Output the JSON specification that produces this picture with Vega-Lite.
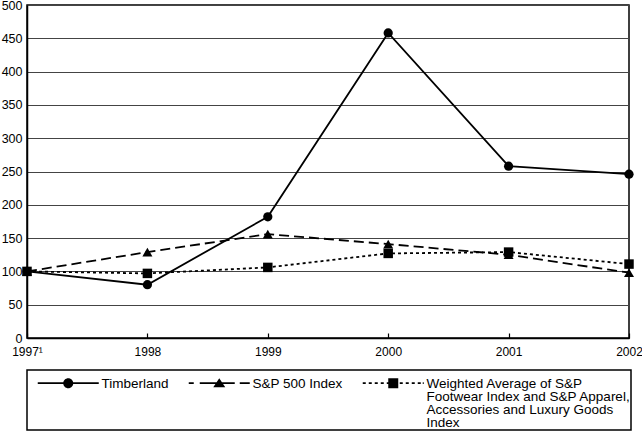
{
  "$schema": "https://vega.github.io/schema/vega-lite/v6.json",
  "autosize": {"type": "none"},
  "width": 602,
  "height": 333,
  "padding": {"left": 27, "top": 5, "right": 13, "bottom": 97},
  "background": "white",
  "config": {
    "view": {"stroke": "black", "strokeWidth": 1.5},
    "font": "Liberation Sans",
    "legend": {"strokeWidth": 1.5},
    "style": {"guide-label": {"lineHeight": 13}}
  },
  "data": {
    "values": [
      {"year": "1997", "series": "Timberland", "value": 100},
      {"year": "1998", "series": "Timberland", "value": 80},
      {"year": "1999", "series": "Timberland", "value": 182},
      {"year": "2000", "series": "Timberland", "value": 458},
      {"year": "2001", "series": "Timberland", "value": 258},
      {"year": "2002", "series": "Timberland", "value": 246},
      {"year": "1997", "series": "S&P 500 Index", "value": 100},
      {"year": "1998", "series": "S&P 500 Index", "value": 129},
      {"year": "1999", "series": "S&P 500 Index", "value": 156},
      {"year": "2000", "series": "S&P 500 Index", "value": 141},
      {"year": "2001", "series": "S&P 500 Index", "value": 125},
      {"year": "2002", "series": "S&P 500 Index", "value": 98},
      {"year": "1997", "series": "Weighted Average of S&P Footwear Index and S&P Apparel, Accessories and Luxury Goods Index", "value": 100},
      {"year": "1998", "series": "Weighted Average of S&P Footwear Index and S&P Apparel, Accessories and Luxury Goods Index", "value": 97},
      {"year": "1999", "series": "Weighted Average of S&P Footwear Index and S&P Apparel, Accessories and Luxury Goods Index", "value": 106},
      {"year": "2000", "series": "Weighted Average of S&P Footwear Index and S&P Apparel, Accessories and Luxury Goods Index", "value": 127},
      {"year": "2001", "series": "Weighted Average of S&P Footwear Index and S&P Apparel, Accessories and Luxury Goods Index", "value": 129},
      {"year": "2002", "series": "Weighted Average of S&P Footwear Index and S&P Apparel, Accessories and Luxury Goods Index", "value": 111}
    ]
  },
  "encoding": {
    "x": {
      "field": "year",
      "type": "ordinal",
      "scale": {"type": "point", "padding": 0},
      "axis": {
        "title": null,
        "labelAngle": 0,
        "labelExpr": "datum.value == '1997' ? '1997\u00b9' : datum.value",
        "labelFontSize": 12,
        "labelColor": "black",
        "labelPadding": 13,
        "tickSize": -5,
        "tickColor": "black",
        "tickWidth": 1.2,
        "domainColor": "black",
        "domainWidth": 1.5,
        "grid": false
      }
    },
    "y": {
      "field": "value",
      "type": "quantitative",
      "scale": {"domain": [0, 500], "nice": false},
      "axis": {
        "title": null,
        "values": [0, 50, 100, 150, 200, 250, 300, 350, 400, 450, 500],
        "ticks": false,
        "labelPadding": 5,
        "labelFontSize": 12.5,
        "labelColor": "black",
        "domainColor": "black",
        "domainWidth": 1.5,
        "grid": true,
        "gridColor": "#444444",
        "gridWidth": 1
      }
    }
  },
  "layer": [
    {
      "transform": [{"filter": "datum.series == 'Timberland'"}],
      "mark": {"type": "line", "color": "black", "strokeWidth": 1.8}
    },
    {
      "transform": [{"filter": "datum.series == 'S&P 500 Index'"}],
      "mark": {"type": "line", "color": "black", "strokeWidth": 1.8, "strokeDash": [10, 5]}
    },
    {
      "transform": [{"filter": "indexof(datum.series, 'Weighted') == 0"}],
      "mark": {"type": "line", "color": "black", "strokeWidth": 1.8, "strokeDash": [3, 3]}
    },
    {
      "transform": [{"filter": "datum.series == 'Timberland'"}],
      "mark": {"type": "point", "shape": "circle", "filled": true, "color": "black", "size": 85, "opacity": 1}
    },
    {
      "transform": [{"filter": "datum.series == 'S&P 500 Index'"}],
      "mark": {"type": "point", "shape": "triangle-up", "filled": true, "color": "black", "size": 100, "opacity": 1}
    },
    {
      "transform": [{"filter": "indexof(datum.series, 'Weighted') == 0"}],
      "mark": {"type": "point", "shape": "square", "filled": true, "color": "black", "size": 90, "opacity": 1}
    },
    {
      "mark": {"type": "point", "filled": true, "color": "black", "size": 16, "opacity": 0},
      "encoding": {
        "shape": {
          "field": "series",
          "type": "nominal",
          "scale": {
            "domain": ["Timberland", "S&P 500 Index", "Weighted Average of S&P Footwear Index and S&P Apparel, Accessories and Luxury Goods Index"],
            "range": [
              "M2,2.55H15V3.45H2ZM19.5,2.55H32.5V3.45H19.5ZM14.75,3A2.5,2.5,0,1,1,19.75,3A2.5,2.5,0,1,1,14.75,3Z",
              "M2,2.55H4.5V3.45H2ZM7.5,2.55H16V3.45H7.5ZM18.5,2.55H25V3.45H18.5ZM27.5,2.55H32.5V3.45H27.5ZM17.25,0.5L20.25,5L14.25,5Z",
              "M2,2.55H3.5V3.45H2ZM5,2.55H6.5V3.45H5ZM8,2.55H9.5V3.45H8ZM11,2.55H12.5V3.45H11ZM14,2.55H15V3.45H14ZM20.5,2.55H22V3.45H20.5ZM23.5,2.55H25V3.45H23.5ZM26.5,2.55H28V3.45H26.5ZM29.5,2.55H31V3.45H29.5ZM32,2.55H32.5V3.45H32ZM14.75,0.5H19.75V5.5H14.75Z"
            ]
          },
          "legend": {
            "title": null,
            "orient": "none",
            "legendX": 0,
            "legendY": 365,
            "direction": "horizontal",
            "padding": 0,
            "strokeColor": "black",
            "fillColor": "white",
            "symbolSize": 16,
            "symbolStrokeWidth": 0,
            "symbolStrokeColor": "black",
            "symbolFillColor": "black",
            "symbolOpacity": 1,
            "labelFontSize": 13.5,
            "labelColor": "black",
            "labelLimit": 400,
            "labelOffset": 61,
            "labelBaseline": "top",
            "columnPadding": 9,
            "labelExpr": "indexof(datum.label, 'Weighted') == 0 ? ['Weighted Average of S&P', 'Footwear Index and S&P Apparel,    ', 'Accessories and Luxury Goods', 'Index'] : [datum.label, ' ', ' ', ' ']"
          }
        }
      }
    }
  ]
}
